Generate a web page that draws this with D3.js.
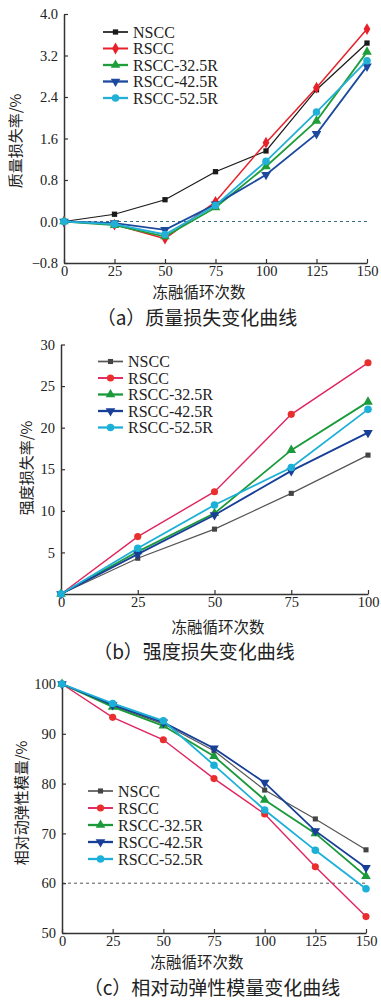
<!DOCTYPE html>
<html>
<head>
<meta charset="utf-8">
<script src="https://cdn.jsdelivr.net/npm/d3@7"></script>
<style>
  body { margin: 0; background: #fff; }
</style>
</head>
<body>
<div id="chart"></div>
<script>
// ---- data ----
const seriesNames = ["NSCC", "RSCC", "RSCC-32.5R", "RSCC-42.5R", "RSCC-52.5R"];

// (a) mass loss rate, %
const cyclesA = [0, 25, 50, 75, 100, 125, 150];
const massNSCC = [0, 0.14, 0.42, 0.96, 1.36, 2.54, 3.44];
const massRSCC = [0, -0.06, -0.33, 0.38, 1.52, 2.58, 3.71];
const mass325 = [0, -0.07, -0.29, 0.27, 1.06, 1.94, 3.27];
const mass425 = [0, -0.03, -0.16, 0.33, 0.90, 1.69, 2.99];
const mass525 = [0, -0.05, -0.25, 0.31, 1.16, 2.11, 3.10];
const ticksA = [-0.8, 0, 0.8, 1.6, 2.4, 3.2, 4.0];

// (b) strength loss rate, %
const cyclesB = [0, 25, 50, 75, 100];
const strNSCC = [0, 4.3, 7.8, 12.1, 16.7];
const strRSCC = [0, 6.9, 12.3, 21.6, 27.8];
const str325 = [0, 5.1, 9.7, 17.3, 23.1];
const str425 = [0, 4.8, 9.5, 14.8, 19.4];
const str525 = [0, 5.5, 10.7, 15.2, 22.2];
const ticksB = [0, 5, 10, 15, 20, 25, 30];

// (c) relative dynamic elastic modulus, %
const cyclesC = [0, 25, 50, 75, 100, 125, 150];
const modNSCC = [100, 95.6, 92.0, 86.6, 78.7, 72.9, 66.7];
const modRSCC = [100, 93.3, 88.8, 81.0, 73.9, 63.3, 53.3];
const mod325 = [100, 95.4, 91.6, 85.5, 76.7, 70.0, 61.4];
const mod425 = [100, 95.8, 92.3, 87.1, 80.2, 70.5, 63.1];
const mod525 = [100, 96.1, 92.6, 83.7, 74.7, 66.6, 58.9];
const ticksC = [50, 60, 70, 80, 90, 100];

// ---- look ----
const cjk = "'Noto Sans CJK SC', sans-serif";
const serif = "'Liberation Serif', 'DejaVu Serif', serif";

const svg = d3.select("#chart").append("svg")
  .attr("width", 381).attr("height", 1001);

function marker(kind, size) {
  const types = {
    square: d3.symbolSquare, circle: d3.symbolCircle, diamond: d3.symbolDiamond,
    up: d3.symbolTriangle, down: d3.symbolTriangle
  };
  return d3.symbol().type(types[kind]).size(size)();
}

function drawPanel(p) {
  const g = svg.append("g");
  const x = d3.scaleLinear().domain(p.xDomain).range([p.left, p.right]);
  const y = d3.scaleLinear().domain(p.yDomain).range([p.bottom, p.top]);

  // reference dashed line
  if (p.refLine !== undefined) {
    g.append("line")
      .attr("x1", x(p.xDomain[0])).attr("x2", x(p.xDomain[1]))
      .attr("y1", y(p.refLine)).attr("y2", y(p.refLine))
      .attr("stroke", p.refColor).attr("stroke-width", 1)
      .attr("stroke-dasharray", "3,3");
  }

  // axes, ticks pointing inward
  const xAxis = g.append("g")
    .attr("transform", `translate(0,${p.bottom})`)
    .call(d3.axisBottom(x).tickValues(p.xs).tickSize(-4).tickSizeOuter(0).tickPadding(3));
  const yAxis = g.append("g")
    .attr("transform", `translate(${p.left},0)`)
    .call(d3.axisLeft(y).tickValues(p.yTicks).tickSize(-4).tickSizeOuter(0)
      .tickPadding(6).tickFormat(p.yFormat));
  [xAxis, yAxis].forEach(a => {
    a.attr("font-family", serif).attr("font-size", 14.5);
    a.select(".domain").attr("stroke", "#333").attr("stroke-width", 1.5);
    a.selectAll(".tick line").attr("stroke", "#333").attr("stroke-width", 1.2);
    a.selectAll(".tick text").attr("fill", "#222");
  });

  // series
  p.series.forEach((vals, i) => {
    const st = p.styles[i];
    const pts = p.xs.map((c, j) => [x(c), y(vals[j])]);
    g.append("path")
      .attr("d", d3.line()(pts))
      .attr("fill", "none")
      .attr("stroke", st.line)
      .attr("stroke-width", st.w);
    g.selectAll(null).data(pts).enter().append("path")
      .attr("d", marker(st.shape, st.size))
      .attr("transform", d => `translate(${d[0]},${d[1]})${st.shape === "down" ? " rotate(180)" : ""}`)
      .attr("fill", st.mark);
  });

  // legend
  const lg = g.append("g");
  seriesNames.forEach((name, i) => {
    const st = p.styles[i];
    const ly = p.legY + i * p.legStep;
    lg.append("line")
      .attr("x1", p.legX).attr("x2", p.legX + 25)
      .attr("y1", ly).attr("y2", ly)
      .attr("stroke", st.line).attr("stroke-width", st.w + 0.5);
    lg.append("path")
      .attr("d", marker(st.shape, st.size))
      .attr("transform", `translate(${p.legX + 12.5},${ly})${st.shape === "down" ? " rotate(180)" : ""}`)
      .attr("fill", st.mark);
    lg.append("text")
      .attr("x", p.legX + 30).attr("y", ly)
      .attr("dy", "0.35em")
      .style("font-family", serif).style("font-size", "16px")
      .attr("fill", "#222")
      .text(name);
  });

  // axis titles and caption
  g.append("text")
    .attr("transform", `translate(${p.yLabelX},${p.yLabelY}) rotate(-90)`)
    .attr("text-anchor", "middle").attr("dy", "0.35em")
    .style("font-family", cjk).style("font-size", "15px").attr("fill", "#222")
    .text(p.yLabel);
  g.append("text")
    .attr("x", p.xLabelX).attr("y", p.xLabelY)
    .attr("text-anchor", "middle").attr("dy", "0.35em")
    .style("font-family", cjk).style("font-size", "15.5px").attr("fill", "#222")
    .text("冻融循环次数");
  g.append("text")
    .attr("x", p.capX).attr("y", p.capY)
    .attr("text-anchor", "middle").attr("dy", "0.35em")
    .style("font-family", cjk).style("font-size", "19px").attr("fill", "#222")
    .text(p.caption);
}

const stylesA = [
  { line: "#1a1a1a", mark: "#1a1a1a", shape: "square", size: 28, w: 1.2 },
  { line: "#e8202a", mark: "#e8202a", shape: "diamond", size: 40, w: 1.5 },
  { line: "#1f9e3a", mark: "#1f9e3a", shape: "up", size: 40, w: 1.8 },
  { line: "#1d4a9e", mark: "#1d4a9e", shape: "down", size: 40, w: 1.8 },
  { line: "#22b0d6", mark: "#22b0d6", shape: "circle", size: 45, w: 1.8 }
];
const stylesBC = [
  { line: "#555555", mark: "#444444", shape: "square", size: 26, w: 1.2 },
  { line: "#e0245e", mark: "#ea2e2e", shape: "circle", size: 40, w: 1.4 },
  { line: "#1a9a3a", mark: "#1a9a3a", shape: "up", size: 40, w: 1.8 },
  { line: "#173f98", mark: "#173f98", shape: "down", size: 40, w: 1.8 },
  { line: "#1cb0d8", mark: "#1cb0d8", shape: "circle", size: 45, w: 1.8 }
];

drawPanel({
  xs: cyclesA, series: [massNSCC, massRSCC, mass325, mass425, mass525],
  xDomain: [0, 150], yDomain: [-0.8, 4.0], yTicks: ticksA, yFormat: d3.format(".1f"),
  left: 64, right: 367, top: 14, bottom: 263,
  refLine: 0, refColor: "#3a6f80", styles: stylesA,
  legX: 103, legY: 32, legStep: 16.5,
  yLabel: "质量损失率/%", yLabelX: 16, yLabelY: 141,
  xLabelX: 199, xLabelY: 293, capX: 197, capY: 318,
  caption: "（a）质量损失变化曲线"
});

drawPanel({
  xs: cyclesB, series: [strNSCC, strRSCC, str325, str425, str525],
  xDomain: [0, 100], yDomain: [0, 30], yTicks: ticksB,
  yFormat: d => d === 0 ? "" : d3.format("d")(d),
  left: 61, right: 368, top: 344.5, bottom: 594,
  styles: stylesBC,
  legX: 98, legY: 361.5, legStep: 16.5,
  yLabel: "强度损失率/%", yLabelX: 27, yLabelY: 468,
  xLabelX: 218, xLabelY: 628, capX: 194, capY: 652,
  caption: "（b）强度损失变化曲线"
});

drawPanel({
  xs: cyclesC, series: [modNSCC, modRSCC, mod325, mod425, mod525],
  xDomain: [0, 150], yDomain: [50, 100], yTicks: ticksC, yFormat: d3.format("d"),
  left: 62, right: 366, top: 684, bottom: 933,
  refLine: 60, refColor: "#555555", styles: stylesBC,
  legX: 88, legY: 791, legStep: 17,
  yLabel: "相对动弹性模量/%", yLabelX: 22, yLabelY: 803,
  xLabelX: 197, xLabelY: 963, capX: 212, capY: 988,
  caption: "（c）相对动弹性模量变化曲线"
});
</script>
</body>
</html>
